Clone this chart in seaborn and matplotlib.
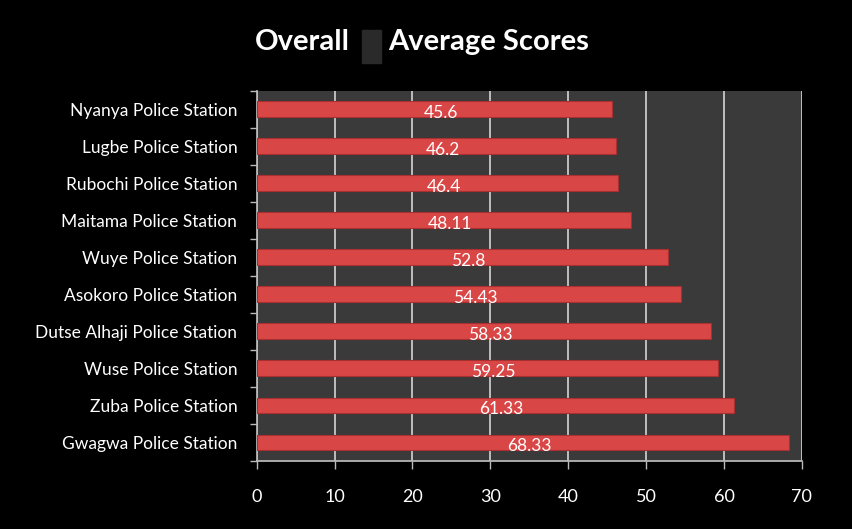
import matplotlib
matplotlib.use("Agg")
import matplotlib.pyplot as plt
import matplotlib.patches as mpatches
import seaborn as sns
import pandas as pd
import numpy as np

# Data (top to bottom as shown)
stations = ["Nyanya Police Station", "Lugbe Police Station", "Rubochi Police Station",
            "Maitama Police Station", "Wuye Police Station", "Asokoro Police Station",
            "Dutse Alhaji Police Station", "Wuse Police Station", "Zuba Police Station",
            "Gwagwa Police Station"]
scores = [45.6, 46.2, 46.4, 48.11, 52.8, 54.43, 58.33, 59.25, 61.33, 68.33]
score_labels = ["45.6", "46.2", "46.4", "48.11", "52.8", "54.43", "58.33", "59.25", "61.33", "68.33"]
x_ticks = [0, 10, 20, 30, 40, 50, 60, 70]

sns.set_theme(style="dark")
plt.rcParams['font.family'] = ['Lato', 'DejaVu Sans']

df = pd.DataFrame({"station": stations, "score": scores})

fig = plt.figure(figsize=(8.53, 5.29), dpi=100, facecolor="black")
ax = fig.add_axes([0.301, 0.1285, 0.639, 0.70])
ax.set_facecolor("#3a3a3a")

sns.barplot(data=df, x="score", y="station", color="#d94646", width=0.43,
            edgecolor="#a83030", linewidth=0.8, saturation=1, ax=ax, zorder=3)

for i, (v, lab) in enumerate(zip(scores, score_labels)):
    ax.text(v / 2 + 0.8, i + 0.1, lab, color="white", ha="center", va="center",
            fontsize=12.5, zorder=4)

ax.set_xlim(0, 70)
ax.set_xticks(x_ticks)
ax.set_xticklabels([str(t) for t in x_ticks], color="white", fontsize=13)
ax.set_yticks(np.arange(len(stations) + 1) - 0.5, minor=True)
ax.tick_params(axis="y", which="major", colors="white", labelsize=12.5, pad=14, length=0)
ax.tick_params(axis="y", which="minor", left=True, length=5, width=1, color="#bbbbbb",
               direction="out")
ax.tick_params(axis="x", bottom=True, colors="white", pad=14, length=6, width=1,
               color="#bbbbbb")
ax.grid(axis="x", color="#c8c8c8", linewidth=1.3, zorder=0)
ax.grid(axis="y", visible=False)
ax.set_axisbelow(True)
ax.set_xlabel("")
ax.set_ylabel("")
for side in ["top", "right"]:
    ax.spines[side].set_visible(False)
ax.spines["left"].set_color("#bbbbbb")
ax.spines["bottom"].set_color("#bbbbbb")

# Title in two pieces with the small dark block between them
fig.text(350 / 853, 1 - 42 / 529, "Overall", color="white", fontsize=21,
         fontweight="bold", ha="right", va="center")
fig.text(388 / 853, 1 - 42 / 529, "Average Scores", color="white", fontsize=21,
         fontweight="bold", ha="left", va="center")
fig.patches.append(mpatches.Rectangle((362 / 853, 1 - 63 / 529), 19 / 853, 33 / 529,
                                      transform=fig.transFigure, color="#2a2a2a"))

fig.savefig("out.png", dpi=100, facecolor="black")
